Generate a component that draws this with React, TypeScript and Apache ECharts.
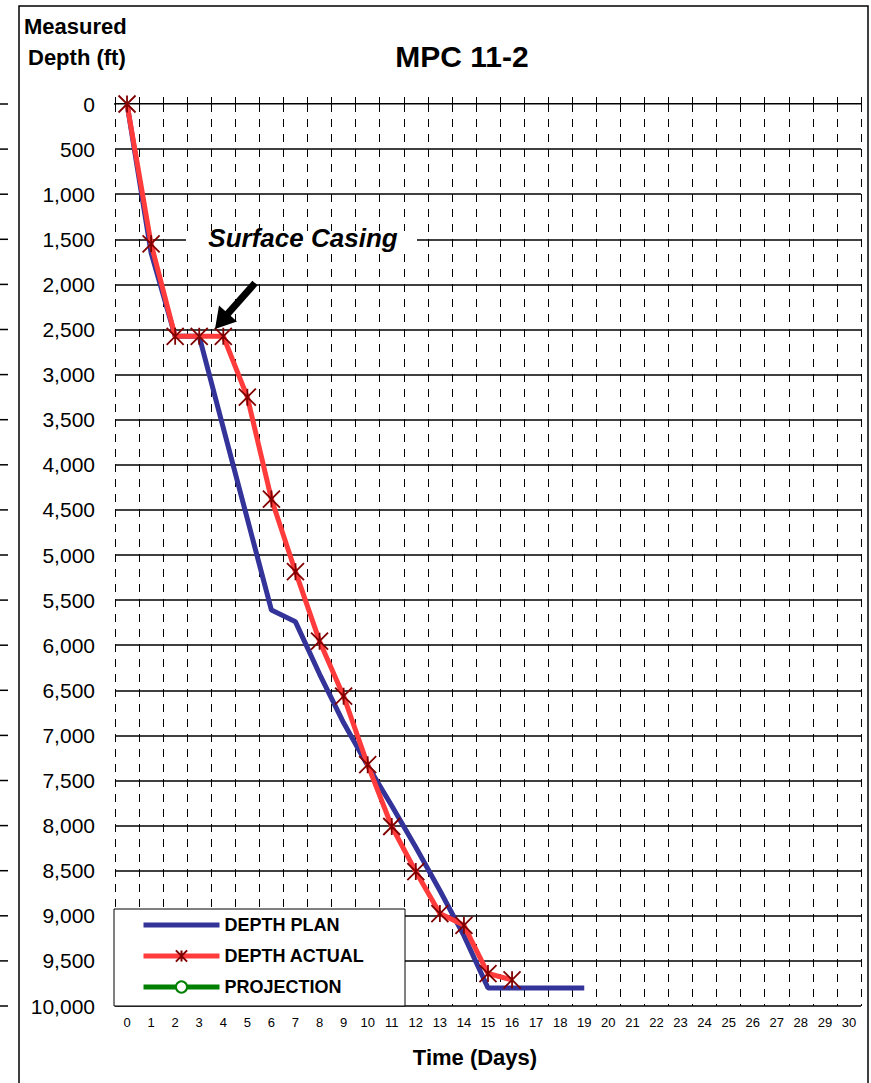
import React, { useEffect, useRef } from 'react';
import * as echarts from 'echarts';

const dayLabels = ['0','1','2','3','4','5','6','7','8','9','10','11','12','13','14','15','16','17','18','19','20','21','22','23','24','25','26','27','28','29','30'];
const depthPlan = [0, 1650, 2575, 2575, 3590, 4600, 5611, 5741, 6320, 6860, 7335, 7780, 8240, 8720, 9220, 9800, 9800, 9800, 9800, 9800];
const depthActual = [0, 1550, 2575, 2575, 2575, 3250, 4380, 5185, 5955, 6565, 7325, 8010, 8510, 8975, 9105, 9640, 9710];
const projection: number[] = [];
const seriesNames = ['DEPTH PLAN', 'DEPTH ACTUAL', 'PROJECTION'];
const depthMin = 0;
const depthMax = 10000;
const depthStep = 500;

const FONT = '"Liberation Sans", Arial, sans-serif';
const GRID = { left: 115, top: 104, width: 746, height: 902 };
const STAR = 'path://M0,0L16,16M16,0L0,16M8,0L8,16';

export default function App() {
  const ref = useRef<HTMLDivElement>(null);
  useEffect(() => {
    document.body.style.margin = '0';
    if (!ref.current) return;
    const chart = echarts.init(ref.current, undefined, { renderer: 'svg' });
    const nLines = (depthMax - depthMin) / depthStep;
    const stubs: any[] = [];
    for (let k = 0; k <= nLines; k++) {
      const y = GRID.top + (k * GRID.height) / nLines;
      stubs.push({ type: 'line', z: 10, shape: { x1: 0, y1: y, x2: 8, y2: y }, style: { stroke: '#000', lineWidth: 1.5 } });
    }
    const splitColors = ['#808080'];
    for (let k = 1; k <= nLines; k++) splitColors.push('#000');

    const topAxis = (inside: boolean) => ({
      type: 'category',
      data: dayLabels,
      position: 'top',
      boundaryGap: true,
      axisLine: { show: !inside, lineStyle: { color: '#808080', width: 1 } },
      axisTick: { show: true, inside, length: 6, lineStyle: { color: '#000', width: 1 } },
      axisLabel: { show: false },
      splitLine: { show: false },
    });

    chart.setOption({
      animation: false,
      backgroundColor: '#fff',
      title: {
        text: 'MPC 11-2',
        left: 457,
        top: 36,
        textAlign: 'center',
        textStyle: { fontFamily: FONT, fontSize: 30, fontWeight: 'bold', color: '#000' },
      },
      grid: { left: GRID.left, top: GRID.top, width: GRID.width, height: GRID.height, containLabel: false },
      xAxis: [
        {
          type: 'category',
          data: dayLabels,
          position: 'bottom',
          boundaryGap: true,
          name: 'Time (Days)',
          nameLocation: 'middle',
          nameGap: 40,
          nameTextStyle: { fontFamily: FONT, fontSize: 22, fontWeight: 'bold', color: '#000', padding: [0, 26, 0, 0] },
          axisLine: { show: true, lineStyle: { color: '#000', width: 2 } },
          axisTick: { show: true, inside: true, length: 7, lineStyle: { color: '#000', width: 1 } },
          axisLabel: { interval: 0, margin: 10, fontFamily: FONT, fontSize: 13, color: '#000' },
          splitLine: { show: true, interval: 0, lineStyle: { color: '#000', width: 1, type: [8, 7] } },
        },
        topAxis(false),
        topAxis(true),
      ],
      yAxis: {
        type: 'value',
        inverse: true,
        min: depthMin,
        max: depthMax,
        interval: depthStep,
        axisLine: { show: false },
        axisTick: { show: false },
        axisLabel: {
          margin: 20,
          fontFamily: FONT,
          fontSize: 21,
          color: '#000',
          formatter: (v: number) => v.toLocaleString('en-US'),
        },
        splitLine: { show: true, lineStyle: { color: splitColors, width: 1.6 } },
      },
      legend: {
        orient: 'vertical',
        left: 141,
        top: 916,
        padding: 0,
        itemWidth: 76,
        itemHeight: 14,
        itemGap: 13,
        z: 5,
        lineStyle: { width: 5 },
        textStyle: { fontFamily: FONT, fontSize: 18, fontWeight: 'bold', color: '#000' },
        data: [
          { name: seriesNames[0], icon: 'path://M0,0H76V5H0Z', itemStyle: { color: '#333399' } },
          seriesNames[1],
          seriesNames[2],
        ],
      },
      series: [
        {
          name: seriesNames[0],
          type: 'line',
          data: depthPlan,
          symbol: 'none',
          lineStyle: { color: '#333399', width: 5 },
          itemStyle: { color: '#333399' },
          z: 2,
        },
        {
          name: seriesNames[1],
          type: 'line',
          data: depthActual,
          symbol: STAR,
          symbolSize: 17,
          symbolKeepAspect: true,
          lineStyle: { color: '#FF3B3B', width: 5 },
          itemStyle: { color: '#800000', borderColor: '#800000', borderWidth: 1.8 },
          z: 3,
        },
        {
          name: seriesNames[2],
          type: 'line',
          data: projection,
          symbol: 'circle',
          symbolSize: 10,
          lineStyle: { color: '#008000', width: 5 },
          itemStyle: { color: '#fff', borderColor: '#008000', borderWidth: 2 },
          z: 3,
        },
      ],
      graphic: [
        ...stubs,
        { type: 'rect', z: 1, shape: { x: 114, y: 909, width: 291, height: 97 }, style: { fill: '#fff', stroke: '#000', lineWidth: 1 } },
        { type: 'rect', z: 1, shape: { x: 186, y: 231, width: 231, height: 16 }, style: { fill: '#fff' } },
        {
          type: 'text', z: 1, x: 303, y: 238,
          style: { text: 'Surface Casing', font: `italic bold 26px ${FONT}`, fill: '#000', textAlign: 'center', textVerticalAlign: 'middle' },
        },
        {
          type: 'text', z: 10, x: 24, y: 26,
          style: { text: 'Measured', font: `bold 22px ${FONT}`, fill: '#000', textAlign: 'left', textVerticalAlign: 'middle' },
        },
        {
          type: 'text', z: 10, x: 28, y: 57,
          style: { text: 'Depth (ft)', font: `bold 22px ${FONT}`, fill: '#000', textAlign: 'left', textVerticalAlign: 'middle' },
        },
        { type: 'line', z: 6, shape: { x1: 255, y1: 283, x2: 227, y2: 314.6 }, style: { stroke: '#000', lineWidth: 7 } },
        { type: 'polygon', z: 6, shape: { points: [[215, 329], [237, 321.5], [219, 305.5]] }, style: { fill: '#000' } },
        { type: 'rect', z: 10, shape: { x: 19, y: 6, width: 849, height: 1100 }, style: { fill: 'none', stroke: '#000', lineWidth: 1.5 } },
      ],
    });
    return () => chart.dispose();
  }, []);
  return <div ref={ref} style={{ width: 871, height: 1083 }} />;
}
